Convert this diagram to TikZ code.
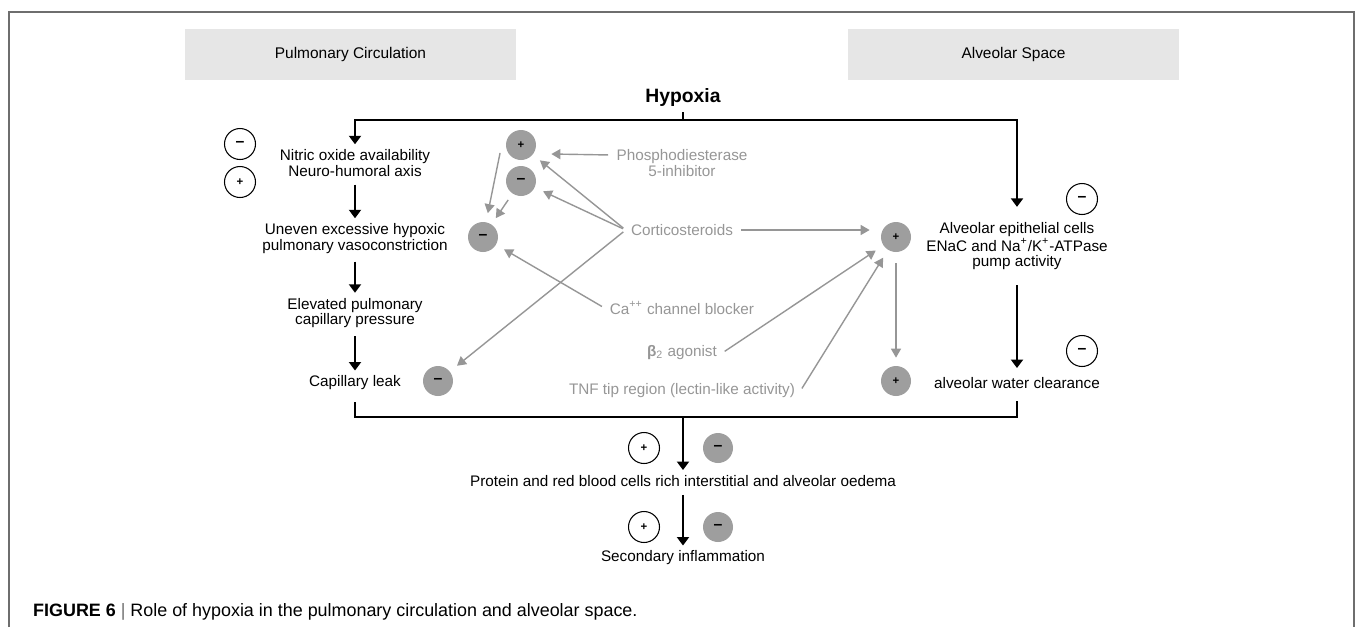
\documentclass[tikz,border=0pt]{standalone}
\usepackage{fontspec}
\setmainfont{Liberation Sans}
\usepackage{tikz}
\usetikzlibrary{arrows.meta,calc}
\definecolor{grtxt}{RGB}{150,150,150}
\definecolor{grfill}{RGB}{158,158,158}
\definecolor{hdrfill}{RGB}{230,230,230}
\definecolor{frm}{RGB}{110,110,110}
\newcommand{\sgnM}{{\fontsize{9}{9}\selectfont\bfseries –}}
\newcommand{\sgnP}{{\fontsize{6.5}{6.5}\selectfont\bfseries +}}
\tikzset{
  circO/.style={ draw, circle, line width=0.6pt, minimum size=0.62cm, inner sep=0pt }
}
\tikzset{
  circG/.style={ circle, fill=grfill, minimum size=0.6cm, inner sep=0pt }
}
\tikzset{
  hdr/.style={ fill=hdrfill, minimum width=6.62cm, minimum height=1.02cm, font=\fontsize{8.8}{9}\selectfont }
}
\tikzset{
  lbl/.style={ align=center, inner sep=0.1cm, font=\fontsize{8.7}{8.82}\selectfont },
  lblG/.style={ lbl, text=grtxt }
}
\tikzset{
  blk/.style={ line width=1.1pt, -{Triangle[length=0.17cm, width=0.24cm]}, shorten <=0.06cm },
  grar/.style={ grtxt, line width=0.8pt, -{Triangle[length=0.18cm, width=0.2cm]}, shorten <=0.06cm, shorten >=0.18cm }
}

\begin{document}
\begin{tikzpicture}[x=0.02cm, y=-0.02cm]
        \useasboundingbox (0,0) rectangle (1357,627);
        \draw[frm, line width=0.8pt] (9,627) -- (9,12) -- (1354,12) -- (1354,627);

        \node[hdr] (hdrL) at (350.5,54.5) {Pulmonary Circulation};
        \node[hdr] (hdrR) at (1013.5,54.5) {Alveolar Space};
        \node[font=\fontsize{11}{12}\selectfont\bfseries] (hyp) at (683,97) {Hypoxia};

        \node[lbl] (n1) at (355,163) {Nitric oxide availability\\Neuro-humoral axis};
        \node[lbl] (n2) at (355,238.5) {Uneven excessive hypoxic\\pulmonary vasoconstriction};
        \node[lbl] (n3) at (355,313) {Elevated pulmonary\\capillary pressure};
        \node[lbl] (n4) at (355,383) {Capillary leak};
        \node[lbl] (a1) at (1017,246) {Alveolar epithelial cells\\ENaC and Na\textsuperscript{+}/K\textsuperscript{+}-ATPase\\pump activity};
        \node[lbl] (a2) at (1017,383) {alveolar water clearance};
        \node[lbl] (oed) at (683,481) {Protein and red blood cells rich interstitial and alveolar oedema};
        \node[lbl] (infl) at (683,558) {Secondary inflammation};

        \node[lblG] (pde) at (682,163) {Phosphodiesterase\\5-inhibitor};
        \node[lblG] (cort) at (682,230) {Corticosteroids};
        \node[lblG] (ca) at (682,308) {Ca\textsuperscript{++} channel blocker};
        \node[lblG] (beta) at (682,353) {\textbf{β}\textsubscript{2} agonist};
        \node[lblG] (tnf) at (682,391) {TNF tip region (lectin-like activity)};

        \node[circO] (oM1) at (240,144) {\sgnM};
        \node[circO] (oP1) at (240,182) {\sgnP};
        \node[circO] (oM2) at (1082,199) {\sgnM};
        \node[circO] (oM3) at (1082,351) {\sgnM};
        \node[circO] (oP2) at (644,448) {\sgnP};
        \node[circO] (oP3) at (644,527) {\sgnP};
        \node[circG] (gP1) at (521,145) {\sgnP};
        \node[circG] (gM1) at (521,181) {\sgnM};
        \node[circG] (gM2) at (483,237) {\sgnM};
        \node[circG] (gM3) at (438,381) {\sgnM};
        \node[circG] (gP2) at (896,237) {\sgnP};
        \node[circG] (gP3) at (896,381) {\sgnP};
        \node[circG] (gM4) at (718,448) {\sgnM};
        \node[circG] (gM5) at (718,527) {\sgnM};

        \coordinate (jT) at (683,120);
        \coordinate (jB) at (683,417);
        \draw[line width=1.1pt] (hyp.south) -- (jT);
        \draw[blk, shorten <=0pt] (jT) -| (n1.north);
        \draw[blk, shorten <=0pt, shorten >=0.2cm] (jT) -| (a1.north);
        \draw[blk] (n1) -- (n2);
        \draw[blk] (n2) -- (n3);
        \draw[blk] (n3) -- (n4);
        \draw[blk, shorten <=0.2cm, shorten >=0.08cm] (a1) -- (a2);
        \draw[line width=1.1pt, shorten <=0.14cm, shorten >=0.14cm] (n4.south) |- (jB) -| (a2.south);
        \draw[blk, shorten <=0pt] (jB) -- (oed);
        \draw[blk] (oed) -- (infl);

        \draw[grar, shorten >=0pt] ($(pde.west)+(0,-8)$) -- ($(gP1.east)+(15,9)$);
        \draw[grar] (cort.west) -- (gP1);
        \draw[grar] (cort.west) -- (gM1);
        \draw[grar] (cort.west) -- (gM3);
        \draw[grar, shorten >=0.22cm] (cort.east) -- (cort.east -| gP2.west);
        \draw[grar] (ca.west) -- (gM2);
        \draw[grar] (beta.east) -- (gP2);
        \draw[grar] (tnf.east) -- (gP2);
        \draw[grar, shorten <=0.22cm, shorten >=0.16cm] (gP2) -- (gP3);
        \draw[grar] ($(gP1.west)+(-5,5)$) -- (gM2);
        \draw[grar, shorten <=0.15cm, shorten >=0.15cm] (gM1) -- (gM2);

        \node[anchor=west, font=\fontsize{10.2}{12}\selectfont] (cap) at (27,612) {\textbf{FIGURE 6} {\color{frm}|} Role of hypoxia in the pulmonary circulation and alveolar space.};
      \end{tikzpicture}
\end{document}
